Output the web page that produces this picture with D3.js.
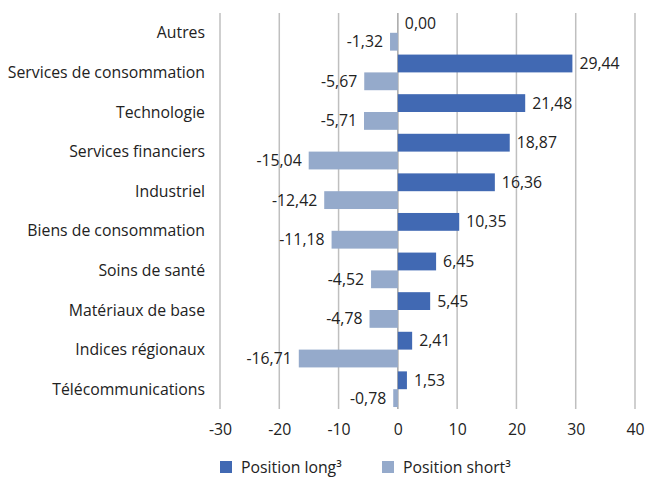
<!DOCTYPE html>
<html>
<head>
<meta charset="utf-8">
<script src="https://cdn.jsdelivr.net/npm/d3@7"></script>
<style>
  body { margin: 0; background: #fff; }
  text { font-family: "Open Sans", sans-serif; fill: #222; }
</style>
</head>
<body>
<div id="chart"></div>
<script>
const categories = ["Autres", "Services de consommation", "Technologie", "Services financiers",
  "Industriel", "Biens de consommation", "Soins de santé", "Matériaux de base",
  "Indices régionaux", "Télécommunications"];
const longValues = [0.00, 29.44, 21.48, 18.87, 16.36, 10.35, 6.45, 5.45, 2.41, 1.53];
const shortValues = [-1.32, -5.67, -5.71, -15.04, -12.42, -11.18, -4.52, -4.78, -16.71, -0.78];
const xTicks = [-30, -20, -10, 0, 10, 20, 30, 40];
const seriesNames = ["Position long³", "Position short³"];

const width = 646, height = 479;
const margin = { top: 13, bottom: 70, left: 220, right: 11 };
const fontSize = "15.8px";

const svg = d3.select("#chart")
  .append("svg")
  .attr("width", width)
  .attr("height", height);

const color = d3.scaleOrdinal()
  .domain(["long", "short"])
  .range(["#4169b3", "#95aacb"]);

// --- SCALES ---
const x = d3.scaleLinear()
  .domain([-30, 40])
  .range([margin.left, width - margin.right]);

const y0 = d3.scaleBand()
  .domain(categories)
  .range([margin.top, height - margin.bottom])
  .paddingInner(0.1)
  .paddingOuter(0.05);

const y1 = d3.scaleBand()
  .domain(["long", "short"])
  .range([0, y0.bandwidth()]);

// --- GRID ---
svg.append("g")
  .selectAll("line")
  .data(xTicks)
  .enter()
  .append("line")
  .attr("x1", d => x(d))
  .attr("x2", d => x(d))
  .attr("y1", margin.top)
  .attr("y2", height - margin.bottom)
  .attr("stroke", d => d === 0 ? "#a6a6a6" : "#bfbfbf")
  .attr("stroke-width", 1.5);

// --- X AXIS LABELS ---
svg.append("g")
  .attr("transform", `translate(0,${height - margin.bottom})`)
  .call(d3.axisBottom(x).tickValues(xTicks).tickSize(0).tickPadding(15).tickFormat(d => String(d)))
  .call(g => g.select(".domain").remove())
  .selectAll("text")
  .style("font-family", "'Open Sans', sans-serif")
  .style("font-size", fontSize)
  .style("fill", "#222");

// --- CATEGORY LABELS ---
svg.append("g")
  .selectAll("text")
  .data(categories)
  .enter()
  .append("text")
  .attr("x", 205)
  .attr("y", d => y0(d) + y0.bandwidth() / 2)
  .attr("dy", "0.35em")
  .attr("text-anchor", "end")
  .style("font-size", fontSize)
  .text(d => d);

// --- BARS ---
const rows = categories.map((c, i) => ({ cat: c, long: longValues[i], short: shortValues[i] }));
const numFmt = v => v.toFixed(2).replace(".", ",");

const groups = svg.selectAll(".group")
  .data(rows)
  .enter()
  .append("g")
  .attr("class", "group")
  .attr("transform", d => `translate(0,${y0(d.cat)})`);

const bars = groups.selectAll("g.bar")
  .data(d => [
    { key: "long", value: d.long },
    { key: "short", value: d.short }
  ])
  .enter()
  .append("g")
  .attr("class", "bar");

bars.append("rect")
  .attr("x", d => x(Math.min(0, d.value)))
  .attr("y", d => y1(d.key))
  .attr("width", d => Math.abs(x(d.value) - x(0)))
  .attr("height", y1.bandwidth())
  .attr("fill", d => color(d.key));

bars.append("text")
  .attr("x", d => d.key === "long" ? x(d.value) + 7 : x(d.value) - 7)
  .attr("y", d => y1(d.key) + y1.bandwidth() / 2)
  .attr("dy", "0.35em")
  .attr("text-anchor", d => d.key === "long" ? "start" : "end")
  .style("font-size", fontSize)
  .text(d => numFmt(d.value));

// --- LEGEND ---
const legend = svg.append("g")
  .attr("transform", `translate(0, 467)`);

const legendX = [220, 382];
["long", "short"].forEach((k, i) => {
  legend.append("rect")
    .attr("x", legendX[i])
    .attr("y", -6)
    .attr("width", 12)
    .attr("height", 12)
    .attr("fill", color(k));
  legend.append("text")
    .attr("x", legendX[i] + 21)
    .attr("y", 0)
    .attr("dy", "0.35em")
    .style("font-size", fontSize)
    .text(seriesNames[i]);
});
</script>
</body>
</html>
